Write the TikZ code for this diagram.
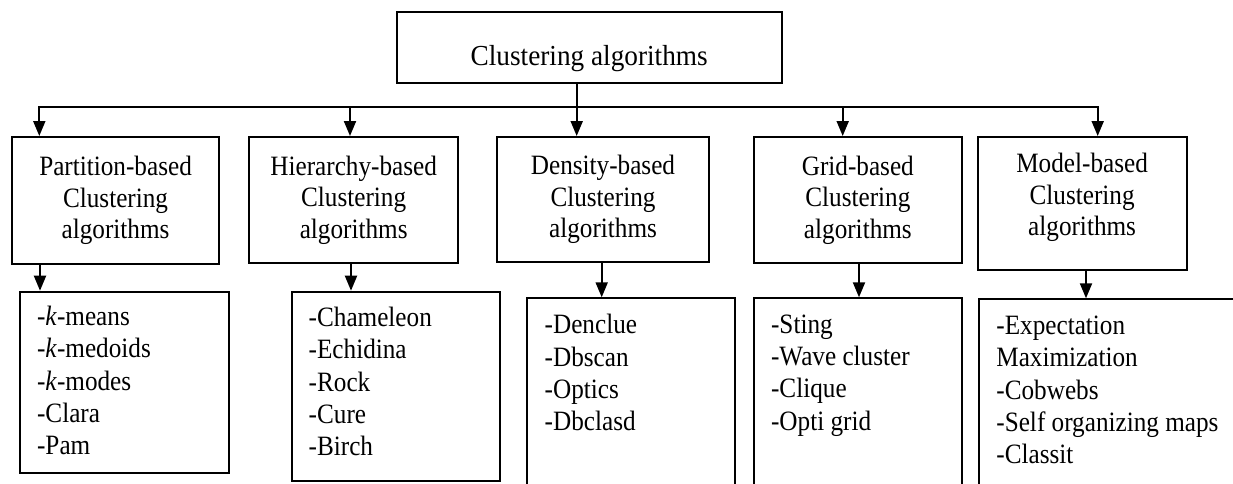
\documentclass[tikz,border=0pt]{standalone}
\usepackage{fontspec}
\setmainfont{Liberation Serif}[FakeStretch=0.9]
\newfontfamily\titlefont{Liberation Serif}[FakeStretch=0.94]
\usetikzlibrary{arrows.meta}
\newcommand\firstline{\rule{0pt}{11pt}}
\tikzset{
  pic px/.style={x=0.5pt,y=-0.5pt},
  box/.style={draw,line width=1pt,rectangle,inner sep=0pt},
  head/.style={box,align=center,font=\fontsize{14pt}{15.75pt}\selectfont},
  listbox/.style={box,anchor=north west},
  listtext/.style={anchor=north west,inner sep=0pt,align=left,
    font=\fontsize{14pt}{16.15pt}\selectfont},
  bus/.style={line width=1pt,line cap=rect},
  arr/.style={line width=1pt,-{Triangle[length=7.5pt,width=6pt]}}
}
\begin{document}
\begin{tikzpicture}[pic px]
\useasboundingbox (0,0) rectangle (1233,483);
\begin{scope}
\clip (0,0) rectangle (1233,483);

% root of the tree
\node[box,minimum width=192.5pt,minimum height=35.8pt,
  font=\titlefont\fontsize{14.5pt}{17pt}\selectfont,
  text height=20.6pt,text depth=3.1pt] (root) at (589.2,47.5) {Clustering algorithms};

% the five families
\node[head,minimum width=103.85pt,minimum height=63.5pt] (part) at (115.55,200.5)
  {Partition-based\\Clustering\\algorithms};
\node[head,minimum width=104.35pt,minimum height=62.85pt] (hier) at (353.65,199.85)
  {Hierarchy-based\\Clustering\\algorithms};
\node[head,minimum width=106.3pt,minimum height=62.5pt] (dens) at (603,199.5)
  {Density-based\\Clustering\\algorithms};
\node[head,minimum width=103.85pt,minimum height=63.15pt] (grid) at (857.85,200.15)
  {Grid-based\\Clustering\\algorithms};
\node[head,minimum width=104.4pt,minimum height=66.5pt,text depth=9.1pt] (model) at (1082.1,203.5)
  {Model-based\\Clustering\\algorithms};

% boxes listing the algorithms of each family
\node[listbox,minimum width=104.5pt,minimum height=90.5pt] (plist) at (19.3,290.7) {};
\node[listbox,minimum width=104.15pt,minimum height=94.65pt] (hlist) at (290.7,290.7) {};
\node[listbox,minimum width=104.15pt,minimum height=110pt] (dlist) at (526,297.3) {};
\node[listbox,minimum width=103.85pt,minimum height=110pt] (glist) at (753.3,297.3) {};
\node[listbox,minimum width=150pt,minimum height=110pt] (mlist) at (977.7,298.3) {};

\node[listtext] (ptext) at (36.7,303)
  {\firstline-\textit{k}-means\\-\textit{k}-medoids\\-\textit{k}-modes\\-Clara\\-Pam};
\node[listtext] (htext) at (308.3,304)
  {\firstline-Chameleon\\-Echidina\\-Rock\\-Cure\\-Birch};
\node[listtext] (dtext) at (544.3,311.3)
  {\firstline-Denclue\\-Dbscan\\-Optics\\-Dbclasd};
\node[listtext] (gtext) at (770.7,310.7)
  {\firstline-Sting\\-Wave cluster\\-Clique\\-Opti grid};
\node[listtext] (mtext) at (996,312)
  {\firstline-Expectation\\Maximization\\-Cobwebs\\-Self organizing maps\\-Classit};

% distribution line below the root
\coordinate (bl) at (39.3,106.7);
\coordinate (bh) at (350,106.7);
\coordinate (bd) at (576.7,106.7);
\coordinate (bg) at (842.7,106.7);
\coordinate (bm) at (1097.7,106.7);
\draw[bus] (bl) -- (bm);
\draw[arr] (root.south -| bd) -- (dens.north -| bd);
\draw[arr] (bl) -- (part.north -| bl);
\draw[arr] (bh) -- (hier.north -| bh);
\draw[arr] (bg) -- (grid.north -| bg);
\draw[arr] (bm) -- (model.north -| bm);

% from each family to its list
\coordinate (xp) at (40,0);
\coordinate (xh) at (351,0);
\coordinate (xd) at (601.7,0);
\coordinate (xg) at (859,0);
\coordinate (xm) at (1086,0);
\draw[arr] (part.south -| xp) -- (plist.north -| xp);
\draw[arr] (hier.south -| xh) -- (hlist.north -| xh);
\draw[arr] (dens.south -| xd) -- (dlist.north -| xd);
\draw[arr] (grid.south -| xg) -- (glist.north -| xg);
\draw[arr] (model.south -| xm) -- (mlist.north -| xm);
\end{scope}
\end{tikzpicture}
\end{document}
